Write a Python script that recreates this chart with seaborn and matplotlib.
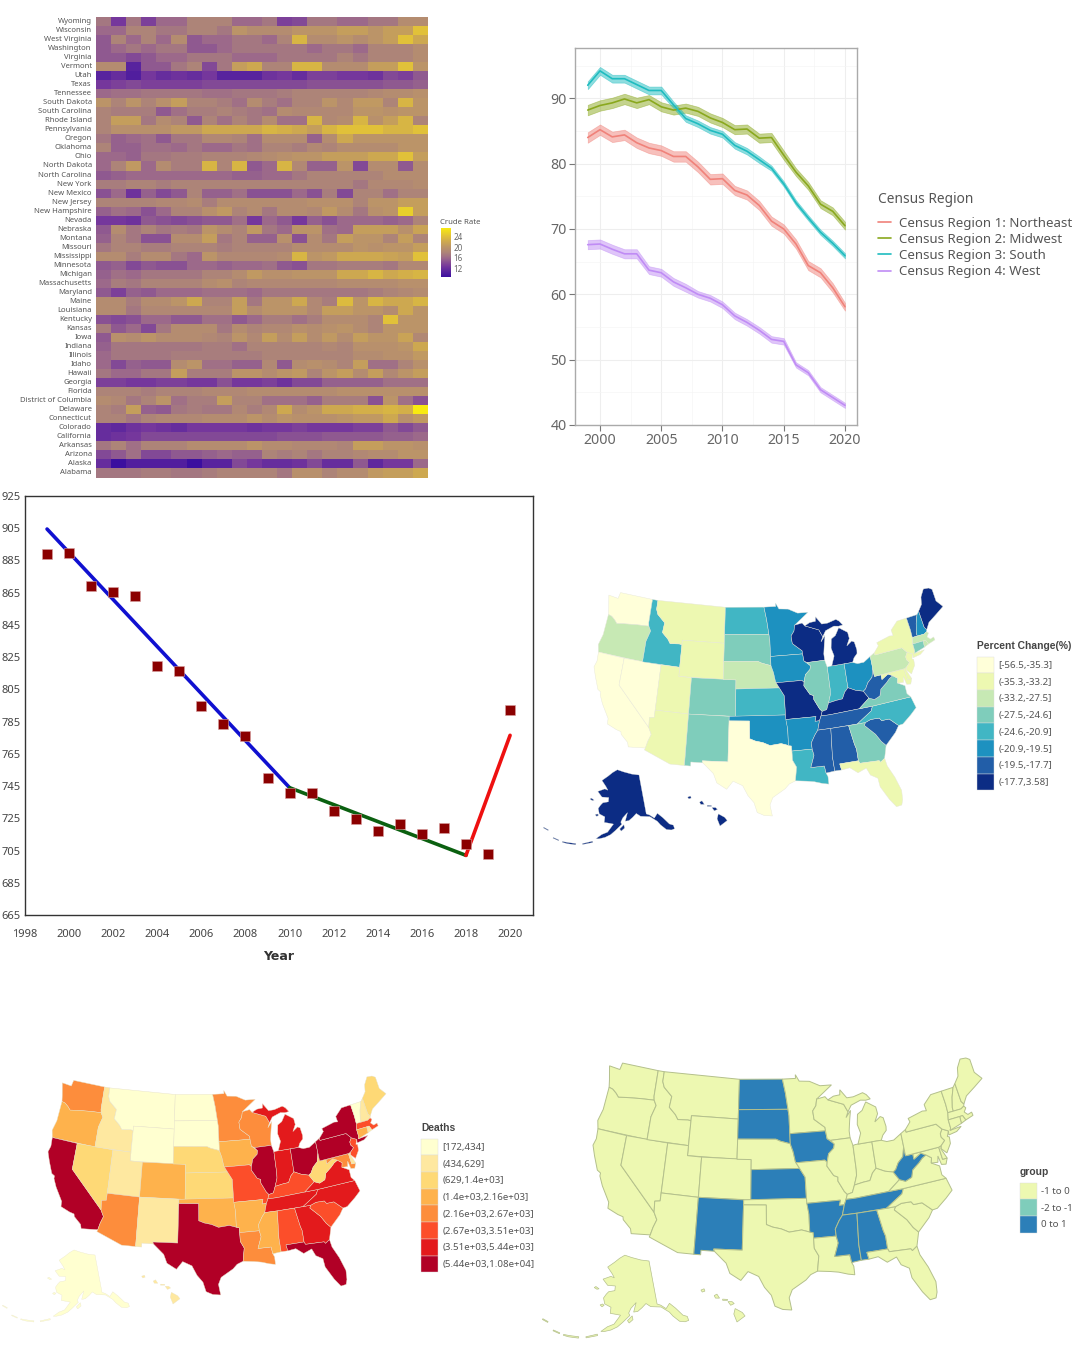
import numpy as np
import pandas as pd
import seaborn as sns
import matplotlib.pyplot as plt
from matplotlib.colors import LinearSegmentedColormap
from matplotlib.patches import Patch

W, H = 1080, 1367

sns.set_theme(style="white")
plt.rcParams["font.family"] = ["Noto Sans", "DejaVu Sans"]

# ---- heatmap data (crude rate per state, 1999-2020) ----
years = list(range(1999, 2021))
heat_states = ["Wyoming", "Wisconsin", "West Virginia", "Washington", "Virginia", "Vermont", "Utah", "Texas",
               "Tennessee", "South Dakota", "South Carolina", "Rhode Island", "Pennsylvania", "Oregon", "Oklahoma",
               "Ohio", "North Dakota", "North Carolina", "New York", "New Mexico", "New Jersey", "New Hampshire",
               "Nevada", "Nebraska", "Montana", "Missouri", "Mississippi", "Minnesota", "Michigan", "Massachusetts",
               "Maryland", "Maine", "Louisiana", "Kentucky", "Kansas", "Iowa", "Indiana", "Illinois", "Idaho",
               "Hawaii", "Georgia", "Florida", "District of Columbia", "Delaware", "Connecticut", "Colorado",
               "California", "Arkansas", "Arizona", "Alaska", "Alabama"]
crude_rate = [
    [17, 13, 17, 13.5, 16, 16, 18, 18, 18, 16, 16, 17, 13.5, 14, 17, 17, 16, 16, 17, 17, 19, 19],
    [16, 16, 18, 18, 17, 17, 18, 18, 17, 20, 19, 19, 19, 20, 20, 20, 21, 21, 20, 21, 21, 24],
    [15, 18, 16, 18, 16, 19, 15, 16, 16, 17, 17, 16, 18, 23, 19, 19, 20, 19, 20, 21, 24, 22],
    [15, 16, 17, 16, 17, 17, 15, 15, 16, 17, 17, 17, 17, 17, 16, 17, 17, 16, 18, 18, 18, 19],
    [15, 15, 14, 15, 16, 16, 17, 17, 17, 16, 16, 16, 17, 17, 17, 17, 18, 17, 18, 18, 18, 19],
    [19, 19, 11, 15, 15, 17, 18, 14, 17, 21, 22, 18, 18, 23, 23, 19, 19, 19, 21, 21, 24, 20],
    [11, 12, 10.5, 13, 12, 12.5, 12, 13, 11, 11, 11, 12.5, 13, 12, 13.5, 13.5, 13, 13, 12.5, 14, 13.5, 15],
    [13, 13.5, 14, 13.5, 13.5, 13.5, 13.5, 14, 14, 14, 14, 14, 14, 14, 14.5, 14.5, 14.5, 14.5, 14.5, 15, 15, 15.5],
    [16, 16.5, 16.5, 17, 17, 17, 17, 16.5, 16.5, 17, 17, 17, 17.5, 18, 18, 18, 18, 18, 18.5, 19, 19, 19.5],
    [20, 18, 20, 18, 19.5, 21, 18, 18, 17.5, 16.5, 19, 17.5, 16.5, 18, 18, 20, 18.5, 20.5, 20.5, 18, 23, 20],
    [18, 17.5, 17.5, 17.5, 15, 16.5, 17.5, 17.5, 18, 17.5, 17, 16.5, 19, 18.5, 18.5, 18.5, 18.5, 20, 20, 19.5, 20, 20],
    [18, 21, 21, 17, 19, 18, 15, 18, 16.5, 18, 17, 19, 16.5, 16.5, 23, 18.5, 19, 23, 19.5, 21, 23, 18],
    [18, 19.5, 19.5, 19.5, 19.5, 20.5, 20.5, 22, 22, 22, 22, 23, 22.5, 22, 21, 23, 24, 24, 24, 23, 23, 24],
    [17, 15.5, 16, 16.5, 15, 17, 17, 18.5, 18.5, 18, 16.5, 19, 19, 19, 15.5, 19, 22, 20, 20, 20, 20, 20],
    [18, 15.5, 15.5, 16.5, 16.5, 16, 17, 16, 16, 17, 16.5, 18, 18, 17.5, 18.5, 18, 19, 19, 19, 19, 20, 20],
    [16, 16, 15.5, 17, 17, 17.5, 17.5, 18, 18, 18, 18.5, 19, 19.5, 20, 20, 21, 21, 21, 22, 22, 24, 21],
    [16, 18, 20.5, 16, 19, 17.5, 17.5, 23, 18, 23, 15, 16, 23, 18.5, 15.5, 15.5, 20, 14, 19, 19, 15, 19],
    [15, 15.5, 16, 16, 16, 16, 16, 16, 16, 15.5, 15.5, 16, 16, 17, 18, 18, 18, 18, 18, 19, 19, 19],
    [17.5, 17.5, 18, 18, 17.5, 18, 18, 18, 18, 18, 18, 18, 18, 18, 18, 18, 18, 17, 18.5, 18.5, 18.5, 19],
    [14.5, 16, 12.5, 15.5, 14, 15, 18, 15.5, 15.5, 16.5, 14.5, 14.5, 14.5, 16, 14.5, 17.5, 14, 18, 18, 16.5, 18, 18],
    [18, 18, 18, 18, 18.5, 18.5, 19, 17.5, 19, 19, 19, 19, 19, 19, 19.5, 19.5, 19.5, 18, 20, 20, 21, 21],
    [15.5, 16.5, 16, 14.5, 16, 18, 18, 19.5, 20.5, 18, 19, 17, 19, 19, 18.5, 20.5, 19, 17, 19.5, 20, 25, 21],
    [13, 13, 12.5, 15, 14.5, 14, 14.5, 15, 15, 16.5, 13, 16, 15, 13, 15.5, 14.5, 16, 16, 16, 15.5, 16, 18],
    [15, 19, 17, 18, 17, 17.5, 17, 20, 19, 18, 20.5, 17, 16, 20, 20, 16.5, 16, 21, 21, 21, 19.5, 21.5],
    [15.5, 18, 17, 14.5, 14.5, 19, 19, 21, 17, 18, 15.5, 15.5, 19.5, 14.5, 19, 17, 21, 20, 20, 18, 21, 18],
    [17, 18, 18, 17.5, 17.5, 18, 18, 18, 17.5, 18, 18, 18, 18, 19, 19, 19, 19, 20, 19.5, 20, 20, 21],
    [19, 19, 17.5, 19, 19, 17, 16, 20, 18.5, 18.5, 18.5, 18.5, 19, 23, 20, 20.5, 22, 22, 22, 21.5, 21, 24],
    [15, 15.5, 14, 15, 14.5, 14.5, 16, 16, 15.5, 16, 16, 16.5, 15, 14.5, 17, 17, 17.5, 17.5, 17.5, 17, 18.5, 18.5],
    [15.5, 16.5, 16, 17, 17, 17, 17, 18, 18, 19, 20.5, 19.5, 19.5, 20, 20, 20, 22, 22, 23, 22, 22.5, 23],
    [16, 17.5, 17, 18, 18, 18, 18, 19, 19.5, 18, 18.5, 18.5, 18.5, 18.5, 18.5, 18.5, 19, 19, 19, 19, 19.5, 19.5],
    [15, 13.5, 15.5, 15, 16, 16, 16, 16.5, 16.5, 16.5, 16, 17, 17, 17, 17, 17, 17, 17, 17.5, 18, 18.5, 19],
    [19, 19, 17.5, 19, 19, 20, 22, 18, 18, 21, 17, 20, 20, 22, 18.5, 17.5, 23.5, 20, 23, 22, 22, 23],
    [19, 19, 17, 18.5, 18.5, 18.5, 18.5, 18.5, 18.5, 21, 19, 20, 20, 20, 18.5, 21, 21, 20, 20, 19, 22, 20],
    [14.5, 14, 14.5, 16, 16, 15, 15, 16.5, 16.5, 15, 16, 17.5, 17.5, 16.5, 17.5, 19, 19, 19, 18, 24, 20, 20],
    [17.5, 15, 16, 14, 17, 19, 19, 19, 17, 19, 18, 18.5, 18.5, 19.5, 19, 19.5, 20, 19, 18, 20, 20, 20],
    [15, 19.5, 19, 20, 19, 19, 19, 18.5, 18, 20, 18.5, 21, 19, 21, 19, 20.5, 19, 21, 20, 20, 21.5, 18.5],
    [15.5, 17, 17, 17, 17, 17, 17, 17.5, 17.5, 16.5, 18, 18, 18, 18, 18, 18.5, 18, 19.5, 19.5, 19.5, 20, 22],
    [16, 17, 17, 17, 17, 17.5, 17.5, 17.5, 17.5, 17.5, 17.5, 18, 18, 18, 18, 18, 18, 19, 19, 19.5, 19.5, 20.5],
    [16, 14, 15.5, 15, 15, 19, 20, 16.5, 16.5, 15.5, 15.5, 18.5, 15, 19, 19.5, 19, 18, 21, 16.5, 16.5, 18, 19.5],
    [17, 16, 16, 17, 17, 21, 17.5, 17.5, 17.5, 20, 20, 19, 20, 20.5, 18, 20, 21, 19, 21, 18.5, 20, 21],
    [13.5, 13.5, 13, 13, 13.5, 13.5, 13, 13, 14.5, 13, 13, 13.5, 12.5, 14, 14, 15.5, 15.5, 15.5, 15.5, 16.5, 16.5, 16.5],
    [18, 18, 18, 17.5, 18, 18, 18, 18.5, 18.5, 18.5, 19, 19, 19, 19, 19, 19, 19.5, 19.5, 19.5, 19.5, 19.5, 19.5],
    [19, 18.5, 17, 18, 20, 16.5, 17.5, 17.5, 21, 18, 18, 16.5, 16.5, 16.5, 15.5, 17.5, 17.5, 17.5, 14.5, 20, 16.5, 14.5],
    [18, 17.5, 21, 15.5, 15, 17, 17.5, 17, 17, 18.5, 17.5, 18.5, 22, 19, 20, 22, 22, 22.5, 22.5, 23, 22.5, 27],
    [18, 18, 17, 18, 18.5, 18.5, 18.5, 19, 19, 19, 20, 19, 20, 19.5, 19.5, 19.5, 20, 20.5, 20.5, 22, 19.5, 20.5],
    [12, 11.5, 12.5, 13, 12.5, 12, 13, 13, 13, 13, 12.5, 13, 13, 13.5, 13, 13, 13, 13.5, 13.5, 15, 14, 15],
    [12, 12.5, 13, 14, 14, 14, 14, 14, 14, 14, 14, 14, 14.5, 14.5, 14.5, 15, 15, 15, 15, 15.5, 15.5, 16],
    [17, 18, 16.5, 18, 18, 18, 19, 19, 19, 19, 20, 19, 19, 18.5, 18.5, 18.5, 18, 21, 21, 20, 20, 19.5],
    [14, 15, 16.5, 14, 14, 15, 15, 15.5, 16, 15.5, 15.5, 18, 17.5, 18, 17, 18, 18, 18.5, 19, 19, 20, 20],
    [12, 9, 10.5, 10.5, 10.5, 10.5, 9, 11, 11, 14, 13, 12, 12, 12.5, 14, 12, 12, 15, 11.5, 13, 13, 16],
    [17, 17, 17, 17.5, 17.5, 17, 17, 17.5, 18, 18, 18, 18, 17, 19.5, 19.5, 18, 19, 19, 20.5, 21, 21, 22],
]
heat_colors = [(0.0, "#3b0f9f"), (0.22, "#75379c"), (0.39, "#9c6a8a"), (0.5, "#ad8478"),
               (0.61, "#bb9468"), (0.72, "#cda850"), (0.83, "#e0c03a"), (1.0, "#f8ea10")]

# ---- census region lines ----
northeast = [84.0, 85.2, 84.1, 84.4, 83.2, 82.4, 82.0, 81.1, 81.1, 79.5, 77.6, 77.7, 75.9, 75.2, 73.6, 71.2, 70.0, 67.7, 64.4, 63.3, 61.0, 58.1]
midwest = [88.2, 88.9, 89.3, 89.9, 89.3, 89.8, 88.7, 88.2, 88.5, 88.0, 87.0, 86.3, 85.2, 85.3, 83.9, 84.0, 81.3, 78.7, 76.6, 73.8, 72.7, 70.5]
south = [92.0, 94.2, 93.0, 93.0, 92.1, 91.2, 91.2, 89.0, 86.9, 86.1, 85.1, 84.5, 82.8, 81.9, 80.6, 79.3, 76.9, 74.0, 71.7, 69.5, 67.8, 65.9]
west = [67.6, 67.7, 66.9, 66.2, 66.2, 63.7, 63.3, 61.9, 61.0, 60.0, 59.4, 58.4, 56.7, 55.7, 54.5, 53.1, 52.8, 49.2, 48.0, 45.4, 44.2, 43.0]
ne_ci = [0.8, 0.8, 0.8, 0.8, 0.8, 0.8, 0.8, 0.8, 0.8, 0.8, 0.8, 0.8, 0.7, 0.7, 0.7, 0.7, 0.7, 0.7, 0.7, 0.7, 0.7, 0.6]
mw_ci = [0.8, 0.8, 0.8, 0.8, 0.8, 0.7, 0.7, 0.7, 0.7, 0.7, 0.7, 0.7, 0.7, 0.7, 0.7, 0.7, 0.7, 0.6, 0.6, 0.6, 0.6, 0.6]
so_ci = [0.6, 0.6, 0.6, 0.6, 0.6, 0.6, 0.6, 0.5, 0.5, 0.5, 0.5, 0.5, 0.5, 0.5, 0.5, 0.4, 0.4, 0.4, 0.4, 0.4, 0.4, 0.4]
we_ci = [0.7, 0.7, 0.7, 0.7, 0.7, 0.6, 0.6, 0.6, 0.6, 0.5, 0.5, 0.5, 0.5, 0.5, 0.5, 0.5, 0.5, 0.4, 0.4, 0.4, 0.4, 0.4]
region_names = ["Census Region 1: Northeast", "Census Region 2: Midwest", "Census Region 3: South", "Census Region 4: West"]
region_colors = ["#f0827a", "#8aa81e", "#1fbcc0", "#c08cf5"]

# ---- joinpoint panel ----
death_years = years
death_rate = [888.8, 889.4, 869.2, 865.3, 862.8, 819.8, 816.7, 794.4, 783.6, 776.2, 750.1, 741, 741, 729.7, 724.3, 716.9, 721.2, 715, 718.9, 709, 703, 792.3]
seg_years = [[1999, 2010], [2010, 2018], [2018, 2020]]
seg_rates = [[904.5, 744], [744, 702], [702, 776.5]]
seg_colors = ["#1010d0", "#0b6010", "#ee1010"]

# ---- map legends ----
pct_labels = ["[-56.5,-35.3]", "(-35.3,-33.2]", "(-33.2,-27.5]", "(-27.5,-24.6]", "(-24.6,-20.9]", "(-20.9,-19.5]", "(-19.5,-17.7]", "(-17.7,3.58]"]
pct_colors = ["#ffffd9", "#edf8b1", "#c7e9b4", "#7fcdbb", "#41b6c4", "#1d91c0", "#225ea8", "#0c2c84"]
death_labels = ["[172,434]", "(434,629]", "(629,1.4e+03]", "(1.4e+03,2.16e+03]", "(2.16e+03,2.67e+03]", "(2.67e+03,3.51e+03]", "(3.51e+03,5.44e+03]", "(5.44e+03,1.08e+04]"]
death_colors = ["#ffffd0", "#fee8a0", "#fed976", "#feb24c", "#fd8d3c", "#fc4e2a", "#e31a1c", "#b10026"]
group_labels = ["-1 to 0", "-2 to -1", "0 to 1"]
group_colors = ["#edf8b1", "#7fcdbb", "#2c7fb8"]

pct_bin = {"WA": 1, "OR": 3, "CA": 1, "NV": 1, "ID": 5, "MT": 2, "WY": 2, "UT": 2, "AZ": 2, "CO": 4, "NM": 4, "ND": 5, "SD": 4,
           "NE": 3, "KS": 5, "OK": 6, "TX": 1, "MN": 6, "IA": 6, "MO": 8, "AR": 6, "LA": 5, "WI": 8, "IL": 4, "IN": 5, "MI": 8,
           "OH": 6, "KY": 8, "TN": 7, "MS": 7, "AL": 7, "GA": 4, "FL": 2, "SC": 7, "NC": 5, "VA": 4, "WV": 7, "MD": 2, "DE": 2,
           "PA": 3, "NJ": 2, "NY": 2, "VT": 7, "NH": 6, "ME": 8, "MA": 3, "RI": 3, "CT": 4, "AK": 8, "HI": 8}
death_bin = {"WA": 5, "OR": 4, "CA": 8, "NV": 3, "ID": 2, "MT": 1, "WY": 1, "UT": 2, "AZ": 5, "CO": 4, "NM": 2, "ND": 1, "SD": 1,
             "NE": 3, "KS": 3, "OK": 4, "TX": 8, "MN": 5, "IA": 4, "MO": 6, "AR": 4, "LA": 5, "WI": 5, "IL": 8, "IN": 7, "MI": 7,
             "OH": 8, "KY": 6, "TN": 7, "MS": 4, "AL": 6, "GA": 7, "FL": 8, "SC": 6, "NC": 7, "VA": 7, "WV": 3, "MD": 5, "DE": 2,
             "PA": 8, "NJ": 6, "NY": 8, "VT": 1, "NH": 2, "ME": 3, "MA": 6, "RI": 2, "CT": 4, "AK": 1, "HI": 2}
group_high = ["ND", "SD", "IA", "KS", "NM", "AR", "TN", "MS", "AL", "WV"]

# rough state outlines, lon/lat
shapes = {
    "WA": [[(-124.7,48.4),(-123.0,48.3),(-122.8,49.0),(-117.03,49.0),(-117.03,46.4),(-116.92,46.0),(-119.0,45.9),(-121.2,45.7),(-122.3,45.55),(-122.8,45.9),(-123.4,46.2),(-124.0,46.3),(-124.2,47.0)]],
    "OR": [[(-124.0,46.3),(-123.4,46.2),(-122.8,45.9),(-122.3,45.55),(-121.2,45.7),(-119.0,45.9),(-116.92,46.0),(-116.5,45.5),(-117.0,44.3),(-117.03,42.0),(-124.2,42.0),(-124.5,42.8),(-124.1,44.0)]],
    "CA": [[(-124.2,42.0),(-120.0,42.0),(-120.0,39.0),(-114.63,35.0),(-114.15,34.3),(-114.5,33.5),(-114.72,32.72),(-117.12,32.53),(-117.3,33.0),(-118.4,33.75),(-118.5,34.03),(-119.2,34.15),(-120.6,34.55),(-120.65,35.15),(-121.9,36.6),(-122.5,37.5),(-122.5,37.8),(-123.0,38.0),(-123.8,39.3),(-124.35,40.3),(-124.1,41.0)]],
    "NV": [[(-120,42),(-114.04,42),(-114.04,36.2),(-114.74,36.1),(-114.63,35.0),(-120,39)]],
    "ID": [[(-117.03,42),(-111.05,42),(-111.05,44.5),(-111.5,44.55),(-113.0,44.45),(-113.45,44.9),(-114.5,45.55),(-114.35,46.65),(-115.7,47.45),(-116.05,48.0),(-116.05,49.0),(-117.03,49),(-117.03,46.4),(-116.92,46.0),(-116.5,45.5),(-117.0,44.3)]],
    "MT": [[(-116.05,49),(-104.05,49),(-104.05,45),(-111.05,45),(-111.05,44.5),(-111.5,44.55),(-113,44.45),(-113.45,44.9),(-114.5,45.55),(-114.35,46.65),(-115.7,47.45),(-116.05,48)]],
    "WY": [[(-111.05,45),(-104.05,45),(-104.05,41),(-111.05,41)]],
    "UT": [[(-114.04,42),(-111.05,42),(-111.05,41),(-109.05,41),(-109.05,37),(-114.04,37)]],
    "CO": [[(-109.05,41),(-102.05,41),(-102.05,37),(-109.05,37)]],
    "AZ": [[(-114.04,37),(-109.05,37),(-109.05,31.33),(-111.07,31.33),(-114.81,32.5),(-114.72,32.72),(-114.5,33.5),(-114.15,34.3),(-114.63,35),(-114.74,36.1),(-114.04,36.2)]],
    "NM": [[(-109.05,37),(-103,37),(-103.05,32),(-106.62,32),(-106.53,31.78),(-108.2,31.78),(-108.2,31.33),(-109.05,31.33)]],
    "ND": [[(-104.05,49),(-97.23,49),(-96.85,47.6),(-96.56,45.94),(-104.05,45.94)]],
    "SD": [[(-104.05,45.94),(-96.56,45.94),(-96.45,45.3),(-96.45,43.5),(-96.45,42.49),(-97.9,42.8),(-98.5,43),(-104.05,43)]],
    "NE": [[(-104.05,43),(-98.5,43),(-97.9,42.8),(-96.45,42.49),(-96.1,41.7),(-95.85,40.7),(-95.31,40),(-102.05,40),(-102.05,41),(-104.05,41)]],
    "KS": [[(-102.05,40),(-95.31,40),(-94.62,39.1),(-94.62,37),(-102.05,37)]],
    "OK": [[(-103,37),(-94.62,37),(-94.43,35.4),(-94.48,33.64),(-95.5,33.9),(-97.1,33.75),(-98.1,34.1),(-99.2,34.3),(-100,34.56),(-100,36.5),(-103,36.5)]],
    "TX": [[(-103,36.5),(-100,36.5),(-100,34.56),(-99.2,34.3),(-98.1,34.1),(-97.1,33.75),(-95.5,33.9),(-94.48,33.64),(-94.04,33.55),(-94.04,31.99),(-93.55,31.2),(-93.84,29.7),(-94.7,29.4),(-95.3,28.9),(-97.0,28.0),(-97.4,27.2),(-97.15,25.96),(-98.2,26.05),(-99.1,26.4),(-99.5,27.5),(-100.3,28.3),(-101.0,29.4),(-102.3,29.88),(-103.15,28.98),(-104.5,29.65),(-105.0,30.65),(-106.53,31.78),(-106.62,32),(-103.05,32)]],
    "MN": [[(-97.23,49),(-95.15,49),(-95.15,49.38),(-94.6,48.7),(-93,48.6),(-91.4,48.05),(-89.6,48.0),(-92.1,46.75),(-92.3,46.1),(-92.85,45.6),(-92.75,44.75),(-91.25,43.85),(-91.22,43.5),(-96.45,43.5),(-96.45,45.3),(-96.56,45.94),(-96.85,47.6)]],
    "IA": [[(-96.45,43.5),(-91.22,43.5),(-91.1,42.7),(-90.15,42.1),(-90.3,41.7),(-91.1,41.2),(-91.42,40.38),(-91.73,40.61),(-95.77,40.58),(-95.85,40.7),(-96.1,41.7),(-96.45,42.49)]],
    "MO": [[(-95.77,40.58),(-91.73,40.61),(-91.42,40.38),(-91.5,40.0),(-90.7,39.0),(-90.15,38.8),(-90.2,38.4),(-89.5,37.3),(-89.15,36.98),(-89.4,36.5),(-89.7,36),(-90.37,36),(-90.15,36.5),(-94.62,36.5),(-94.62,39.1),(-95.31,40)]],
    "AR": [[(-94.62,36.5),(-90.15,36.5),(-90.37,36),(-89.7,36),(-90.1,35),(-90.6,34.5),(-91.2,33.7),(-91.17,33),(-94.04,33),(-94.04,33.55),(-94.48,33.64),(-94.43,35.4)]],
    "LA": [[(-94.04,33),(-91.17,33),(-91.0,32.3),(-91.6,31),(-89.73,31),(-89.6,30.2),(-89.4,29.8),(-89.4,28.95),(-90.2,29.1),(-91.3,29.4),(-92.3,29.55),(-93.84,29.7),(-93.55,31.2),(-94.04,31.99)]],
    "WI": [[(-92.1,46.75),(-90.8,46.9),(-90.4,46.55),(-88.1,45.9),(-87.6,45.1),(-88.0,44.55),(-87.2,45.2),(-87.5,44.3),(-87.8,43.2),(-87.8,42.5),(-90.64,42.5),(-91.1,42.7),(-91.22,43.5),(-91.25,43.85),(-92.75,44.75),(-92.85,45.6),(-92.3,46.1)]],
    "IL": [[(-90.64,42.5),(-87.8,42.5),(-87.53,41.7),(-87.53,39.3),(-87.6,38.7),(-88.05,37.8),(-88.45,37.1),(-89.15,36.98),(-89.5,37.3),(-90.2,38.4),(-90.15,38.8),(-90.7,39),(-91.5,40),(-91.42,40.38),(-91.1,41.2),(-90.3,41.7),(-90.15,42.1)]],
    "IN": [[(-87.53,41.7),(-87.2,41.76),(-84.8,41.76),(-84.82,39.1),(-85.4,38.7),(-85.9,38.0),(-86.8,37.95),(-88.05,37.8),(-87.6,38.7),(-87.53,39.3)]],
    "MI": [[(-86.8,41.76),(-84.8,41.76),(-83.45,41.73),(-83.1,42.2),(-82.5,42.6),(-82.42,43.0),(-82.6,43.9),(-83.0,44.07),(-83.9,43.65),(-83.3,44.4),(-83.4,45.1),(-84.75,45.78),(-85.5,45.0),(-86.25,44.7),(-86.5,43.7),(-86.2,42.8)],
           [(-90.4,46.55),(-88.1,45.9),(-87.6,45.1),(-87.0,45.7),(-85.5,46.05),(-84.7,45.95),(-84.0,46.0),(-84.5,46.5),(-85.0,46.75),(-86.5,46.5),(-87.5,46.5),(-88.4,47.4),(-88.5,46.9),(-89.5,46.85)]],
    "OH": [[(-84.8,41.76),(-83.45,41.73),(-82.7,41.5),(-81.7,41.5),(-80.52,41.98),(-80.52,40.64),(-80.9,39.7),(-81.7,39.2),(-82.2,38.6),(-82.6,38.4),(-83.7,38.65),(-84.82,39.1)]],
    "KY": [[(-89.4,36.5),(-89.15,36.98),(-88.45,37.1),(-88.05,37.8),(-86.8,37.95),(-85.9,38.0),(-85.4,38.7),(-84.82,39.1),(-83.7,38.65),(-82.6,38.4),(-81.97,37.54),(-83.67,36.6),(-88.07,36.5)]],
    "TN": [[(-90.1,35),(-89.7,36),(-89.4,36.5),(-88.07,36.5),(-83.67,36.6),(-81.68,36.59),(-82.0,36.1),(-84.32,35),(-88.2,35)]],
    "MS": [[(-90.1,35),(-88.2,35),(-88.47,31.9),(-88.4,30.3),(-89.6,30.2),(-89.73,31),(-91.6,31),(-91,32.3),(-91.17,33),(-91.2,33.7),(-90.6,34.5)]],
    "AL": [[(-88.2,35),(-85.6,35),(-85.18,32.87),(-85,32.3),(-85,31),(-87.6,31),(-87.45,30.3),(-88.4,30.3),(-88.47,31.9)]],
    "GA": [[(-85.6,35),(-84.32,35),(-83.1,35),(-83.35,34.7),(-82,33.5),(-81.4,32.6),(-80.85,32.05),(-81.4,30.7),(-82.05,30.36),(-82.2,30.57),(-84.86,30.7),(-85,31),(-85,32.3),(-85.18,32.87)]],
    "FL": [[(-87.6,31),(-85,31),(-84.86,30.7),(-82.2,30.57),(-82.05,30.36),(-81.4,30.7),(-81.25,29.8),(-80.55,28.4),(-80.03,26.8),(-80.15,25.75),(-80.4,25.2),(-81.1,25.15),(-81.8,26.1),(-82.7,27.7),(-82.8,28.7),(-83.7,29.2),(-84.1,30.05),(-85.3,29.7),(-86.3,30.4),(-87.45,30.3)]],
    "SC": [[(-83.1,35),(-82.3,35.2),(-81.04,35.15),(-80.78,34.82),(-79.67,34.8),(-78.55,33.86),(-79.2,33.2),(-80.85,32.05),(-81.4,32.6),(-82,33.5),(-83.35,34.7)]],
    "NC": [[(-84.32,35),(-82,36.1),(-81.68,36.59),(-75.87,36.55),(-75.5,35.25),(-76.5,34.65),(-77.9,33.9),(-78.55,33.86),(-79.67,34.8),(-80.78,34.82),(-81.04,35.15),(-82.3,35.2),(-83.1,35)]],
    "VA": [[(-83.67,36.6),(-81.97,37.54),(-81.2,37.25),(-80.3,37.5),(-79.95,38.2),(-78.9,38.75),(-78.35,39.1),(-77.75,39.32),(-77.1,38.9),(-77.3,38.4),(-76.3,37.9),(-76.3,37),(-75.87,36.55),(-81.68,36.59)]],
    "WV": [[(-82.6,38.4),(-82.2,38.6),(-81.7,39.2),(-80.9,39.7),(-80.52,40.64),(-80.52,39.72),(-79.48,39.72),(-79.48,39.2),(-78.4,39.62),(-77.75,39.32),(-78.35,39.1),(-78.9,38.75),(-79.95,38.2),(-80.3,37.5),(-81.2,37.25),(-81.97,37.54)]],
    "MD": [[(-79.48,39.72),(-75.79,39.72),(-75.69,38.46),(-75.05,38.45),(-75.4,37.9),(-76.0,38.0),(-76.2,38.9),(-76.4,38.3),(-77.3,38.4),(-77.1,38.9),(-77.75,39.32),(-78.4,39.62),(-79.48,39.2)]],
    "DE": [[(-75.79,39.72),(-75.4,39.8),(-75.55,39.5),(-75.05,38.45),(-75.69,38.46)]],
    "PA": [[(-80.52,41.98),(-79.76,42.27),(-79.76,42),(-75.35,42),(-74.7,41.36),(-75.1,40.95),(-75.1,40.6),(-74.75,40.2),(-75.4,39.8),(-75.79,39.72),(-80.52,39.72)]],
    "NJ": [[(-74.7,41.36),(-73.9,41),(-74.25,40.5),(-74,40.4),(-74.1,39.75),(-74.9,38.95),(-75.5,39.5),(-75.4,39.8),(-74.75,40.2),(-75.1,40.6),(-75.1,40.95)]],
    "NY": [[(-79.76,42.27),(-78.9,42.9),(-79.05,43.27),(-76.8,43.63),(-76.2,43.55),(-76.3,44.2),(-75,44.98),(-73.35,45),(-73.25,43.6),(-73.28,42.75),(-73.5,42.05),(-73.49,41.2),(-73.65,41.0),(-72,41.05),(-72.8,40.7),(-74,40.6),(-73.9,41),(-74.7,41.36),(-75.35,42),(-79.76,42)]],
    "VT": [[(-73.35,45),(-71.5,45),(-72.05,44.1),(-72.45,43.1),(-72.46,42.73),(-73.28,42.75),(-73.25,43.6)]],
    "NH": [[(-71.5,45),(-71.08,45.3),(-70.98,43.4),(-70.7,43.07),(-70.82,42.87),(-71.3,42.7),(-72.46,42.73),(-72.45,43.1),(-72.05,44.1)]],
    "ME": [[(-71.08,45.3),(-70.3,45.9),(-70,46.7),(-69.2,47.45),(-68.3,47.35),(-67.8,47.07),(-67.8,45.7),(-67,44.85),(-68.5,44.3),(-70,43.75),(-70.7,43.07),(-70.98,43.4)]],
    "MA": [[(-73.5,42.05),(-73.28,42.75),(-72.46,42.73),(-71.3,42.7),(-70.82,42.87),(-70.6,42.65),(-71,42.3),(-70.6,41.95),(-70.0,42.05),(-69.95,41.7),(-71.12,41.5),(-71.38,42.02),(-71.8,42.02)]],
    "RI": [[(-71.8,42.02),(-71.38,42.02),(-71.12,41.5),(-71.85,41.32)]],
    "CT": [[(-73.5,42.05),(-71.8,42.02),(-71.85,41.32),(-73.65,41.0),(-73.49,41.2)]],
}
alaska = [
    [(-141,69.65),(-141,60.3),(-139.5,59.9),(-137.5,58.9),(-135.5,59.8),(-133.5,58.4),(-131.5,56.5),(-130.0,55.9),(-130.0,55.0),(-131.5,55.0),(-133.5,55.5),(-135.5,57.0),(-136.5,58.0),(-139.5,59.5),(-144,60),(-146,60.8),(-148,60.0),(-150,59.3),(-151.8,59.2),(-150.5,61.2),(-153,60),(-154,59),(-153.5,58.5),(-156.5,57),(-158.5,56),(-161,55.2),(-163.5,54.7),(-164.8,54.6),(-162.5,55.8),(-160,56.5),(-157.5,58.5),(-159,58.6),(-162,58.7),(-162,60),(-165,60.5),(-166,61.7),(-165,62.6),(-164,63.2),(-161,63.6),(-161,64.6),(-165,64.5),(-168,65.6),(-164,66.5),(-162,66.3),(-163.5,67.1),(-166.7,68.35),(-163,69.6),(-160,70.6),(-156.6,71.35),(-152,70.85),(-146,70.15)],
    [(-154.5,57.4),(-152.5,58.4),(-152.2,57.6),(-153.8,56.9)],
    [(-166.0,53.9),(-167.5,53.5),(-170.0,52.8),(-169.8,52.6),(-167.5,53.2),(-165.8,53.6)],
    [(-172.5,52.4),(-176.0,52.0),(-178.0,51.8),(-178.0,51.6),(-176.0,51.7),(-172.5,52.1)],
    [(-179.5,51.8),(-182.0,51.8),(-182.0,51.6),(-179.5,51.6)],
    [(-185.0,52.9),(-187.2,52.9),(-187.2,52.7),(-185.0,52.7)],
    [(-166,60.4),(-165.2,60.2),(-166,59.8),(-167,60.1)],
    [(-170.8,63.7),(-169,63.4),(-170,63.2),(-171.5,63.4)],
]
hawaii = [
    [(-155.9,20.25),(-155.1,19.85),(-154.8,19.5),(-155.7,18.9),(-156.05,19.7)],
    [(-156.7,20.95),(-156.25,20.95),(-156,20.75),(-156.4,20.58)],
    [(-157.3,21.2),(-156.75,21.17),(-156.75,21.08),(-157.3,21.08)],
    [(-158.25,21.55),(-157.95,21.7),(-157.65,21.3),(-158.1,21.3)],
    [(-159.75,22.1),(-159.4,22.23),(-159.3,22),(-159.6,21.9)],
]


def albers(points, lat1, lat2, lat0, lon0):
    pts = np.radians(np.array(points, dtype=float))
    p1, p2, p0, l0 = np.radians([lat1, lat2, lat0, lon0])
    n = (np.sin(p1) + np.sin(p2)) / 2
    c = np.cos(p1) ** 2 + 2 * n * np.sin(p1)
    rho = np.sqrt(c - 2 * n * np.sin(pts[:, 1])) / n
    rho0 = np.sqrt(c - 2 * n * np.sin(p0)) / n
    theta = n * (pts[:, 0] - l0)
    return np.column_stack([rho * np.sin(theta), rho0 - rho * np.cos(theta)])


def lower48(points):
    # centre west of -96 tips the map the way the reference leans
    return albers(points, 29.5, 45.5, 37.5, -101)


def px_rect(x0, y0, x1, y1):
    return [x0 / W, 1 - y1 / H, (x1 - x0) / W, (y1 - y0) / H]


def draw_map(fig, panel, box, fills, edge, lw, ak_at, hi_at):
    # panel = axes in pixels, box = where the lower 48 land in pixels
    ax = fig.add_axes(px_rect(*panel))
    all_pts = np.vstack([lower48(p) for polys in shapes.values() for p in polys])
    xmin, ymin = all_pts.min(axis=0)
    xmax, ymax = all_pts.max(axis=0)
    sx = (xmax - xmin) / (box[2] - box[0])
    sy = (ymax - ymin) / (box[3] - box[1])
    ax.set_xlim(xmin - (box[0] - panel[0]) * sx, xmax + (panel[2] - box[2]) * sx)
    ax.set_ylim(ymin - (panel[3] - box[3]) * sy, ymax + (box[1] - panel[1]) * sy)
    ax.axis("off")
    for st, polys in shapes.items():
        for p in polys:
            xy = lower48(p)
            ax.fill(xy[:, 0], xy[:, 1], facecolor=fills[st], edgecolor=edge, linewidth=lw)
    # Alaska sits at about 0.47 of the main scale, Hawaii at full scale
    corner = albers([(-141, 69.65)], 55, 65, 50, -154)[0]
    for p in alaska:
        xy = (albers(p, 55, 65, 50, -154) - corner) * 0.47
        xy[:, 0] += xmin + (ak_at[0] - box[0]) * sx
        xy[:, 1] += ymax - (ak_at[1] - box[1]) * sy
        ax.fill(xy[:, 0], xy[:, 1], facecolor=fills["AK"], edgecolor=edge, linewidth=lw * 0.7)
    tip = albers([(-155.7, 18.9)], 8, 18, 13, -157)[0]
    for p in hawaii:
        xy = albers(p, 8, 18, 13, -157) - tip
        xy[:, 0] += xmin + (hi_at[0] - box[0]) * sx
        xy[:, 1] += ymax - (hi_at[1] - box[1]) * sy
        ax.fill(xy[:, 0], xy[:, 1], facecolor=fills["HI"], edgecolor=edge, linewidth=lw * 0.7)
    return ax


def bin_legend(ax, title, labels, colors, x, y):
    handles = [Patch(facecolor=c, edgecolor="#dddddd", linewidth=0.3, label=l) for c, l in zip(colors, labels)]
    leg = ax.legend(handles=handles, title=title, loc="upper left", bbox_to_anchor=(x / W, 1 - y / H),
                    bbox_transform=fig.transFigure, frameon=False, fontsize=7.0, labelspacing=0,
                    handleheight=2.27, handlelength=1.75, handletextpad=0.45, borderpad=0, borderaxespad=0,
                    alignment="left", title_fontproperties={"family": "Liberation Sans", "weight": "bold", "size": 7.4})
    for t in leg.get_texts():
        t.set_color("#555555")
    leg.get_title().set_color("#444444")
    leg._legend_box.sep = 4


fig = plt.figure(figsize=(W / 100, H / 100), dpi=100)

# ---- top left heatmap ----
heat_df = pd.DataFrame(crude_rate, index=heat_states, columns=years)
heat_cmap = LinearSegmentedColormap.from_list("crude", heat_colors)
ax_heat = fig.add_axes(px_rect(96, 17, 428, 477.5))
ax_cbar = fig.add_axes(px_rect(441, 228, 451, 277))
sns.heatmap(heat_df, ax=ax_heat, cbar_ax=ax_cbar, cmap=heat_cmap, vmin=9, vmax=27,
            xticklabels=False, yticklabels=True)
ax_heat.tick_params(axis="y", length=0, pad=3, labelsize=5.5, labelcolor="#555555", rotation=0)
ax_heat.set_xlabel("")
ax_cbar.set_yticks([12, 16, 20, 24])
ax_cbar.tick_params(length=0, labelsize=5.8, labelcolor="#666666", pad=2)
ax_cbar.set_title("Crude Rate", fontsize=5.6, color="#555555", loc="left", pad=3, x=-0.1)

# ---- top right lines ----
region_df = pd.DataFrame({"Year": years * 4,
                          "Rate": northeast + midwest + south + west,
                          "Census Region": [r for r in region_names for _ in years]})
ax_line = fig.add_axes(px_rect(575, 48, 857, 425))
sns.lineplot(data=region_df, x="Year", y="Rate", hue="Census Region", palette=region_colors,
             hue_order=region_names, ax=ax_line, linewidth=1.2)
for vals, ci, col in zip([northeast, midwest, south, west], [ne_ci, mw_ci, so_ci, we_ci], region_colors):
    lo = np.array(vals) - np.array(ci)
    hi = np.array(vals) + np.array(ci)
    ax_line.fill_between(years, lo, hi, facecolor=col, edgecolor=col, alpha=0.5, linewidth=0.5)
ax_line.set_xlim(1997.96, 2020.98)
ax_line.set_ylim(40, 97.7)
ax_line.set_xticks([2000, 2005, 2010, 2015, 2020])
ax_line.set_yticks([40, 50, 60, 70, 80, 90])
ax_line.set_xticks([2002.5, 2007.5, 2012.5, 2017.5], minor=True)
ax_line.set_yticks([45, 55, 65, 75, 85, 95], minor=True)
ax_line.grid(True, which="major", color="#eeeeee", linewidth=0.8)
ax_line.grid(True, which="minor", color="#f5f5f5", linewidth=0.5)
ax_line.set_axisbelow(True)
ax_line.set_xlabel("")
ax_line.set_ylabel("")
ax_line.tick_params(axis="both", which="major", length=4, width=0.8, color="#777777", labelsize=10.2, labelcolor="#666666", pad=2,
                    bottom=True, left=True)
ax_line.tick_params(axis="both", which="minor", length=0)
for sp in ax_line.spines.values():
    sp.set_color("#aaaaaa")
    sp.set_linewidth(1.0)
handles, labels = ax_line.get_legend_handles_labels()
leg = ax_line.legend(handles, labels, title="Census Region", loc="upper left", bbox_to_anchor=(878 / W, 1 - 192 / H),
                     bbox_transform=fig.transFigure, frameon=False, fontsize=9.55, title_fontsize=9.9,
                     labelspacing=0.24, handlelength=1.0, handletextpad=0.62, borderpad=0, borderaxespad=0, alignment="left")
for t in leg.get_texts():
    t.set_color("#555555")
leg.get_title().set_color("#555555")
leg._legend_box.sep = 7

# ---- middle left scatter with segments ----
ax_pts = fig.add_axes(px_rect(25, 496, 533, 915))
for sx_, sy_, col in zip(seg_years, seg_rates, seg_colors):
    sns.lineplot(x=sx_, y=sy_, color=col, linewidth=2.6, ax=ax_pts, errorbar=None)
sns.scatterplot(x=death_years, y=death_rate, marker="s", s=50, color="#8b0000", edgecolor="#d8a0a0", linewidth=0.4, ax=ax_pts, zorder=3)
ax_pts.set_xlim(1998, 2021.04)
ax_pts.set_ylim(665, 925)
ax_pts.set_xticks(list(range(1998, 2021, 2)))
ax_pts.set_yticks(list(range(665, 926, 20)))
ax_pts.tick_params(axis="both", length=0, labelsize=8, labelcolor="#444444", pad=3)
ax_pts.tick_params(axis="x", pad=10)
ax_pts.set_xlabel("Year", fontsize=9, fontweight="bold", family="DejaVu Sans", color="#333333", labelpad=7)
ax_pts.set_ylabel("")
for sp in ax_pts.spines.values():
    sp.set_color("#333333")
    sp.set_linewidth(1.0)

# ---- maps ----
pct_fill = {k: pct_colors[v - 1] for k, v in pct_bin.items()}
ax_m1 = draw_map(fig, (540, 575, 975, 860), (594, 588, 943, 816), pct_fill, "#e6e6d8", 0.3, (639, 775), (720, 826))
bin_legend(ax_m1, "Percent Change(%)", pct_labels, pct_colors, 977, 641)

death_fill = {k: death_colors[v - 1] for k, v in death_bin.items()}
ax_m2 = draw_map(fig, (0, 1060, 418, 1340), (48, 1076, 386, 1295), death_fill, "#e6e0c8", 0.3, (95, 1255), (173, 1304))
bin_legend(ax_m2, "Deaths", death_labels, death_colors, 421, 1123)

group_fill = {k: (group_colors[2] if k in group_high else group_colors[0]) for k in pct_bin}
ax_m3 = draw_map(fig, (540, 1045, 1015, 1350), (593, 1058, 982, 1310), group_fill, "#b4c08c", 0.7, (649, 1261), (737, 1322))
bin_legend(ax_m3, "group", group_labels, group_colors, 1020, 1167)

fig.savefig("out.png", dpi=100)
